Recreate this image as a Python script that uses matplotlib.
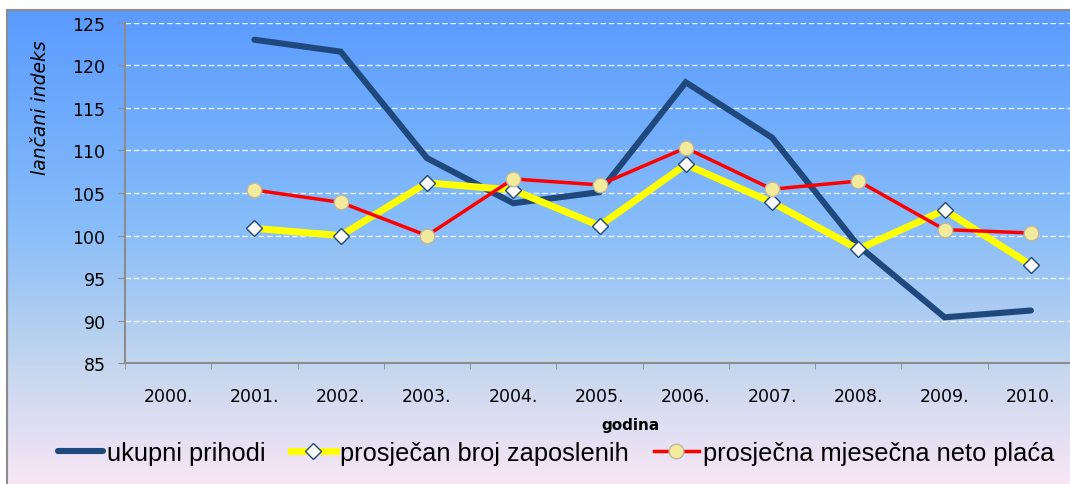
import matplotlib
matplotlib.use('Agg')
import matplotlib.pyplot as plt
import numpy as np
from matplotlib.colors import LinearSegmentedColormap

# podaci (lančani indeksi)
godine = ['2000.', '2001.', '2002.', '2003.', '2004.', '2005.',
          '2006.', '2007.', '2008.', '2009.', '2010.']
ukupni_prihodi = [np.nan, 123.0, 121.6, 109.1, 103.8, 105.1, 118.0, 111.5, 98.8, 90.4, 91.2]
broj_zaposlenih = [np.nan, 100.85, 100.0, 106.2, 105.35, 101.15, 108.35, 103.9, 98.4, 103.0, 96.55]
neto_placa = [np.nan, 105.35, 103.9, 100.0, 106.65, 105.95, 110.3, 105.45, 106.4, 100.7, 100.3]

W, H = 1070, 485
fig = plt.figure(figsize=(W / 100, H / 100), dpi=100)
fig.patch.set_facecolor('white')

# pozadina s gradijentom
bg = fig.add_axes([7 / W, 0, 1 - 7 / W, (H - 11) / H])
cmap = LinearSegmentedColormap.from_list('bg', [
    (0.0, '#5A9BFF'), (0.45, '#86BCF9'), (0.75, '#C4D6EE'), (1.0, '#F8E6F6')])
grad = np.linspace(0, 1, 256).reshape(-1, 1)
bg.imshow(grad, aspect='auto', cmap=cmap, extent=[0, 1, 1, 0])
bg.set_xticks([])
bg.set_yticks([])
for s in ['right', 'bottom']:
    bg.spines[s].set_visible(False)
for s in ['top', 'left']:
    bg.spines[s].set_color('#8C8C8C')
    bg.spines[s].set_linewidth(1.5)

ax = fig.add_axes([125 / W, 1 - 364.3 / H, 949 / W, (364.3 - 23.7) / H])
ax.patch.set_alpha(0)

x = np.arange(len(godine))
ax.plot(x, ukupni_prihodi, color='#1F497D', lw=4.4, solid_capstyle='round',
        solid_joinstyle='miter', label='ukupni prihodi', zorder=3)
ax.plot(x, broj_zaposlenih, color='#FFFF00', lw=5, marker='D', ms=7.8,
        mfc='white', mec='#1F497D', mew=1.0, label='prosječan broj zaposlenih', zorder=4)
ax.plot(x, neto_placa, color='#FF0000', lw=2.5, marker='o', ms=10.5,
        mfc='#F3EB9C', mec='#BDB6A2', mew=1.0, label='prosječna mjesečna neto plaća', zorder=5)

ax.set_xlim(-0.5, len(godine) - 0.5)
ax.set_ylim(85, 125)
ax.set_yticks(np.arange(85, 126, 5))
ax.set_xticks(x)
ax.set_xticklabels(godine)
ax.set_xticks(np.arange(-0.5, len(godine), 1), minor=True)
ax.tick_params(axis='x', which='major', length=0, pad=17, labelsize=12.5, colors='black')
ax.tick_params(axis='x', which='minor', length=4, color='#8C8C8C', direction='out')
ax.tick_params(axis='y', length=5, color='#8C8C8C', pad=9, labelsize=12.5)

ax.grid(axis='y', color='white', linestyle=(0, (4, 2)), lw=1, alpha=0.85)
ax.set_axisbelow(True)
for s in ['top', 'right']:
    ax.spines[s].set_visible(False)
for s in ['left', 'bottom']:
    ax.spines[s].set_color('#8C8C8C')
    ax.spines[s].set_linewidth(1.5)

fig.text(41 / W, 1 - 108 / H, 'lančani indeks', rotation=90, ha='center', va='center',
         style='italic', fontsize=13.5)
fig.text(630 / W, 1 - 426 / H, 'godina', ha='center', va='center',
         fontweight='bold', fontsize=11)

fig.legend(loc='center', bbox_to_anchor=(556 / W, 1 - 454 / H), ncol=3, frameon=False,
           prop={'family': 'Liberation Sans', 'size': 18.3}, handlelength=1.77,
           handletextpad=0.16, columnspacing=1.0, borderpad=0, borderaxespad=0)

fig.savefig('out.png', dpi=100)
